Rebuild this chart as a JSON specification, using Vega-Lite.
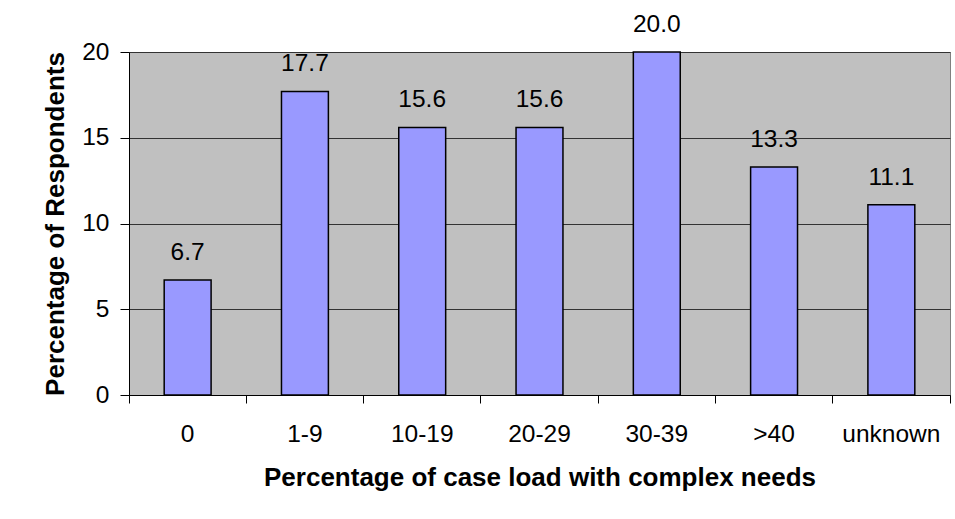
{
  "$schema": "https://vega.github.io/schema/vega-lite/v6.json",
  "autosize": {"type": "none"},
  "width": 821,
  "height": 343,
  "padding": {"left": 129, "top": 52, "right": 5, "bottom": 124},
  "background": "white",
  "config": {
    "view": {"fill": "#C0C0C0", "stroke": "#808080", "strokeWidth": 1},
    "font": "Liberation Sans"
  },
  "data": {
    "values": [
      {"category": "0", "value": 6.7},
      {"category": "1-9", "value": 17.7},
      {"category": "10-19", "value": 15.6},
      {"category": "20-29", "value": 15.6},
      {"category": "30-39", "value": 20.0},
      {"category": ">40", "value": 13.3},
      {"category": "unknown", "value": 11.1}
    ]
  },
  "encoding": {
    "x": {
      "field": "category",
      "type": "nominal",
      "sort": null,
      "scale": {"paddingInner": 0, "paddingOuter": 0},
      "axis": {
        "title": "Percentage of case load with complex needs",
        "titleFont": "Liberation Sans",
        "titleFontSize": 26,
        "titleFontWeight": "bold",
        "titleColor": "black",
        "titlePadding": 19,
        "labelFont": "Liberation Sans",
        "labelFontSize": 24.5,
        "labelColor": "black",
        "labelAngle": 0,
        "labelPadding": 19,
        "bandPosition": 1,
        "tickExtra": true,
        "tickSize": 8,
        "tickColor": "black",
        "domainColor": "black",
        "domainWidth": 1,
        "grid": false
      }
    },
    "y": {
      "field": "value",
      "type": "quantitative",
      "scale": {"domain": [0, 20], "nice": false},
      "axis": {
        "title": "Percentage of Respondents",
        "titleFont": "Liberation Sans",
        "titleFontSize": 26,
        "titleFontWeight": "bold",
        "titleColor": "black",
        "titlePadding": 13,
        "labelFont": "Liberation Sans",
        "labelFontSize": 24.5,
        "labelColor": "black",
        "labelPadding": 11,
        "values": [0, 5, 10, 15, 20],
        "tickSize": 9,
        "tickColor": "black",
        "domainColor": "black",
        "grid": true,
        "gridColor": "#333333",
        "gridWidth": 1
      }
    }
  },
  "layer": [
    {
      "mark": {"type": "bar", "width": {"band": 0.4}, "fill": "#9999FF", "stroke": "black", "strokeWidth": 1.5}
    },
    {
      "mark": {"type": "text", "dy": -20, "baseline": "alphabetic", "fontSize": 24.5, "font": "Liberation Sans", "color": "black"},
      "encoding": {"text": {"field": "value", "type": "quantitative", "format": ".1f"}}
    }
  ]
}
